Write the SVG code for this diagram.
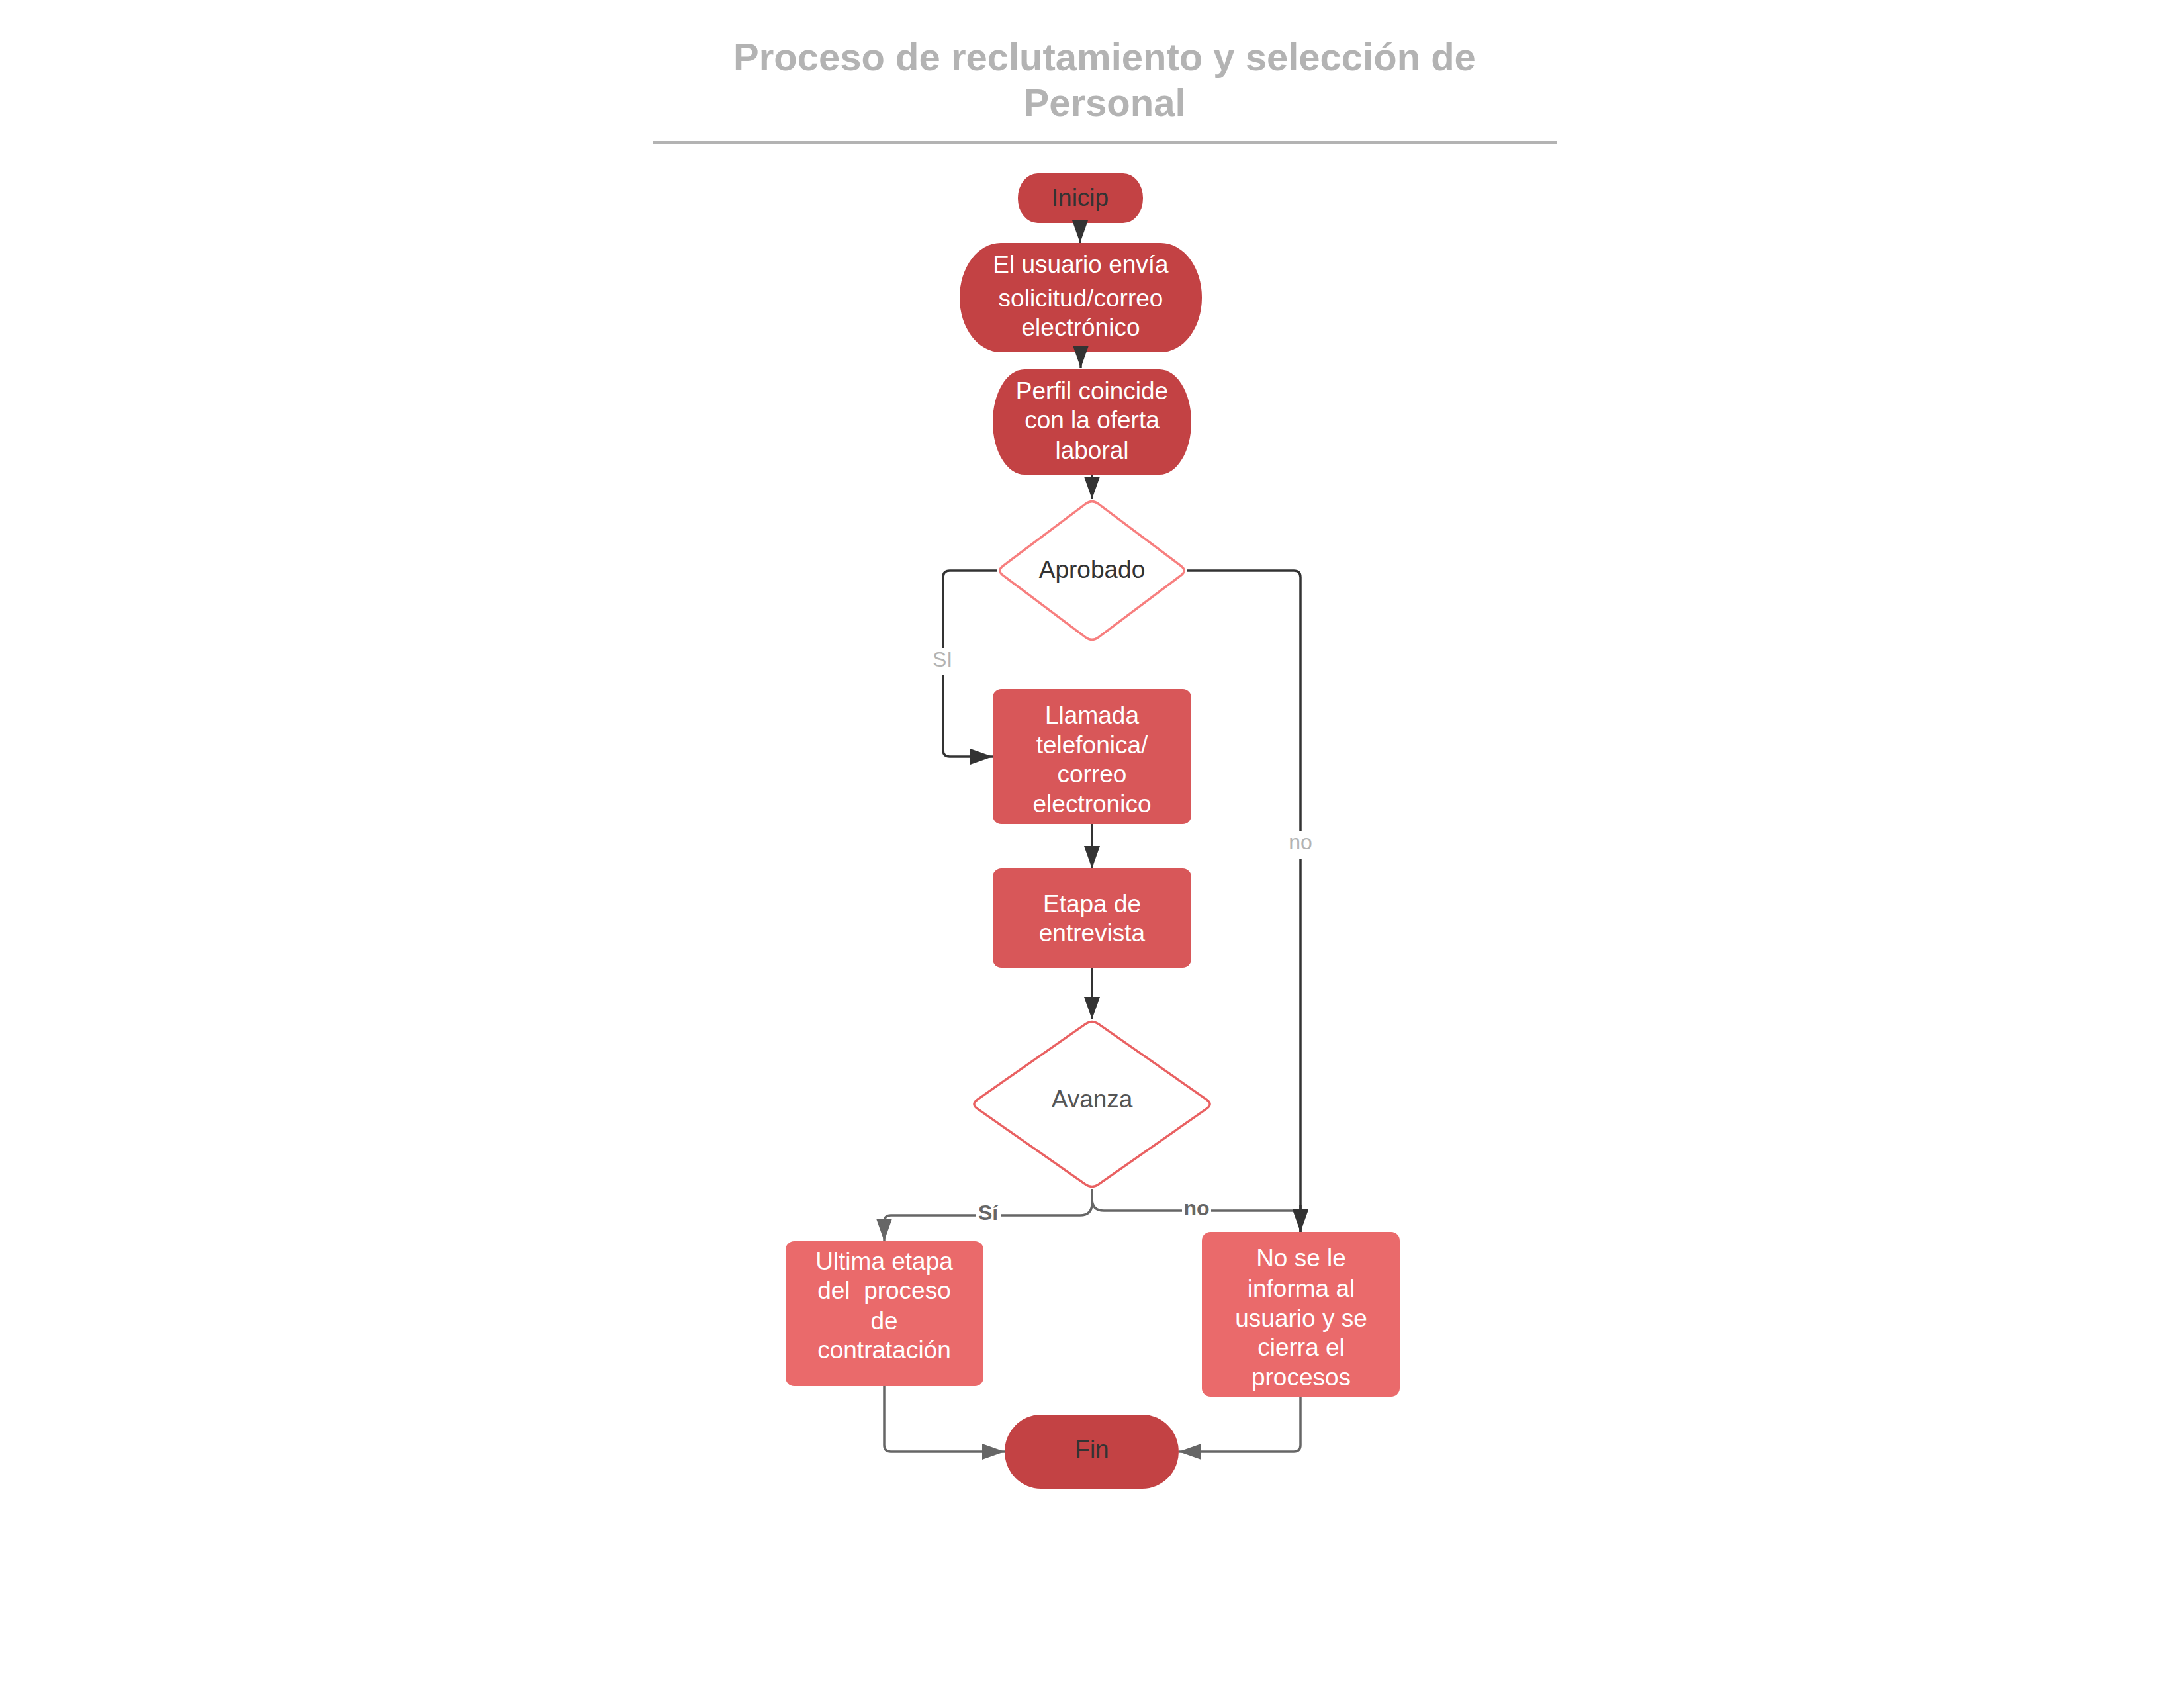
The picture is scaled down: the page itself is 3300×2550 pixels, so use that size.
<svg xmlns="http://www.w3.org/2000/svg" width="3300" height="2550" viewBox="0 0 3300 2550">
  <style>
    text { font-family: "Liberation Sans", Arial, sans-serif; text-anchor: middle; }
    .title { font-size: 58px; font-weight: bold; fill: #b3b3b3; }
    .t { font-size: 37px; fill: #ffffff; }
    .dk { font-size: 37px; fill: #333333; }
    .gy { font-size: 37px; fill: #555555; }
    .term { fill: #c34244; }
    .proc1 { fill: #d85759; }
    .proc2 { fill: #ea6a6b; }
    .dec1 { fill: #ffffff; stroke: #f77f7f; stroke-width: 3.5; }
    .dec2 { fill: #ffffff; stroke: #e96162; stroke-width: 3.5; }
    .cd { fill: none; stroke: #333333; stroke-width: 3.5; }
    .cg { fill: none; stroke: #666666; stroke-width: 3.5; }
    .lbl1 { font-size: 32px; fill: #b3b3b3; }
    .lbl2 { font-size: 32px; font-weight: bold; fill: #666666; }
  </style>
  <defs>
    <marker id="ad" viewBox="0 0 34 24" refX="34" refY="12" markerWidth="34" markerHeight="24" markerUnits="userSpaceOnUse" orient="auto">
      <path d="M0,0 L34,12 L0,24 Z" fill="#333333"/>
    </marker>
    <marker id="ag" viewBox="0 0 34 24" refX="34" refY="12" markerWidth="34" markerHeight="24" markerUnits="userSpaceOnUse" orient="auto">
      <path d="M0,0 L34,12 L0,24 Z" fill="#666666"/>
    </marker>
  </defs>
  <rect width="3300" height="2550" fill="#ffffff"/>

  <g id="title">
    <text class="title" x="1669" y="106">Proceso de reclutamiento y selección de</text>
    <text class="title" x="1669" y="175">Personal</text>
    <line x1="987" y1="215" x2="2352" y2="215" stroke="#b3b3b3" stroke-width="4"/>
  </g>

  <g id="inicio">
    <rect class="term" x="1538" y="262" width="189" height="75" rx="30" ry="37"/>
    <text class="dk" x="1632" y="311">Inicip</text>
  </g>

  <g id="usuario-envia">
    <rect class="term" x="1450" y="367" width="366" height="165" rx="62" ry="82"/>
    <text class="t" x="1633" y="412">El usuario envía</text>
    <text class="t" x="1633" y="463">solicitud/correo</text>
    <text class="t" x="1633" y="507">electrónico</text>
  </g>

  <g id="perfil">
    <rect class="term" x="1500" y="558" width="300" height="159" rx="48" ry="79"/>
    <text class="t" x="1650" y="603">Perfil coincide</text>
    <text class="t" x="1650" y="647">con la oferta</text>
    <text class="t" x="1650" y="693">laboral</text>
  </g>

  <g id="aprobado">
    <path class="dec1" d="M1659.6,761.2 L1784.4,854.8 Q1794,862 1784.4,869.2 L1659.6,962.8 Q1650,970 1640.4,962.8 L1515.6,869.2 Q1506,862 1515.6,854.8 L1640.4,761.2 Q1650,754 1659.6,761.2 Z"/>
    <text class="dk" x="1650" y="873">Aprobado</text>
  </g>

  <g id="llamada">
    <rect class="proc1" x="1500" y="1041" width="300" height="204" rx="13"/>
    <text class="t" x="1650" y="1093">Llamada</text>
    <text class="t" x="1650" y="1138">telefonica/</text>
    <text class="t" x="1650" y="1182">correo</text>
    <text class="t" x="1650" y="1227">electronico</text>
  </g>

  <g id="entrevista">
    <rect class="proc1" x="1500" y="1312" width="300" height="150" rx="13"/>
    <text class="t" x="1650" y="1378">Etapa de</text>
    <text class="t" x="1650" y="1422">entrevista</text>
  </g>

  <g id="avanza">
    <path class="dec2" d="M1659.83,1546.88 L1823.17,1661.12 Q1833,1668 1823.17,1674.88 L1659.83,1789.12 Q1650,1796 1640.17,1789.12 L1476.83,1674.88 Q1467,1668 1476.83,1661.12 L1640.17,1546.88 Q1650,1540 1659.83,1546.88 Z"/>
    <text class="gy" x="1650" y="1673">Avanza</text>
  </g>

  <g id="ultima-etapa">
    <rect class="proc2" x="1187" y="1875" width="299" height="219" rx="13"/>
    <text class="t" x="1336" y="1918">Ultima etapa</text>
    <text class="t" x="1336" y="1962">del&#160; proceso</text>
    <text class="t" x="1336" y="2008">de</text>
    <text class="t" x="1336" y="2052">contratación</text>
  </g>

  <g id="no-informa">
    <rect class="proc2" x="1816" y="1861" width="299" height="249" rx="13"/>
    <text class="t" x="1966" y="1913">No se le</text>
    <text class="t" x="1966" y="1959">informa al</text>
    <text class="t" x="1966" y="2004">usuario y se</text>
    <text class="t" x="1966" y="2048">cierra el</text>
    <text class="t" x="1966" y="2093">procesos</text>
  </g>

  <g id="fin">
    <rect class="term" x="1518" y="2137" width="263" height="112" rx="55" ry="56"/>
    <text class="dk" x="1650" y="2202">Fin</text>
  </g>

  <g id="connectors">
    <path class="cd" d="M1632,337 L1632,367" marker-end="url(#ad)"/>
    <path class="cd" d="M1633,532 L1633,556" marker-end="url(#ad)"/>
    <path class="cd" d="M1650,717 L1650,754" marker-end="url(#ad)"/>
    <path class="cd" d="M1506,862 L1435,862 Q1425,862 1425,872 L1425,1133 Q1425,1143 1435,1143 L1500,1143" marker-end="url(#ad)"/>
    <rect x="1405" y="979" width="40" height="40" fill="#ffffff"/>
    <text class="lbl1" x="1424" y="1007">SI</text>
    <path class="cd" d="M1794,862 L1955,862 Q1965,862 1965,872 L1965,1861" marker-end="url(#ad)"/>
    <rect x="1944" y="1256" width="42" height="41" fill="#ffffff"/>
    <text class="lbl1" x="1965" y="1283">no</text>
    <path class="cd" d="M1650,1245 L1650,1312" marker-end="url(#ad)"/>
    <path class="cd" d="M1650,1462 L1650,1540" marker-end="url(#ad)"/>
    <path class="cg" d="M1650,1796 L1650,1818 Q1650,1836 1632,1836 L1346,1836 Q1336,1836 1336,1846 L1336,1875" marker-end="url(#ag)"/>
    <rect x="1474" y="1818" width="38" height="32" fill="#ffffff"/>
    <text class="lbl2" x="1493" y="1843">Sí</text>
    <path class="cg" d="M1650,1796 L1650,1811 Q1650,1829 1668,1829 L1953,1829 Q1963,1829 1963,1839"/>
    <rect x="1786" y="1812" width="44" height="32" fill="#ffffff"/>
    <text class="lbl2" x="1808" y="1836">no</text>
    <path class="cd" d="M1965,1820 L1965,1861" marker-end="url(#ad)"/>
    <path class="cg" d="M1336,2094 L1336,2183 Q1336,2193 1346,2193 L1518,2193" marker-end="url(#ag)"/>
    <path class="cg" d="M1965,2110 L1965,2183 Q1965,2193 1955,2193 L1781,2193" marker-end="url(#ag)"/>
  </g>
</svg>
